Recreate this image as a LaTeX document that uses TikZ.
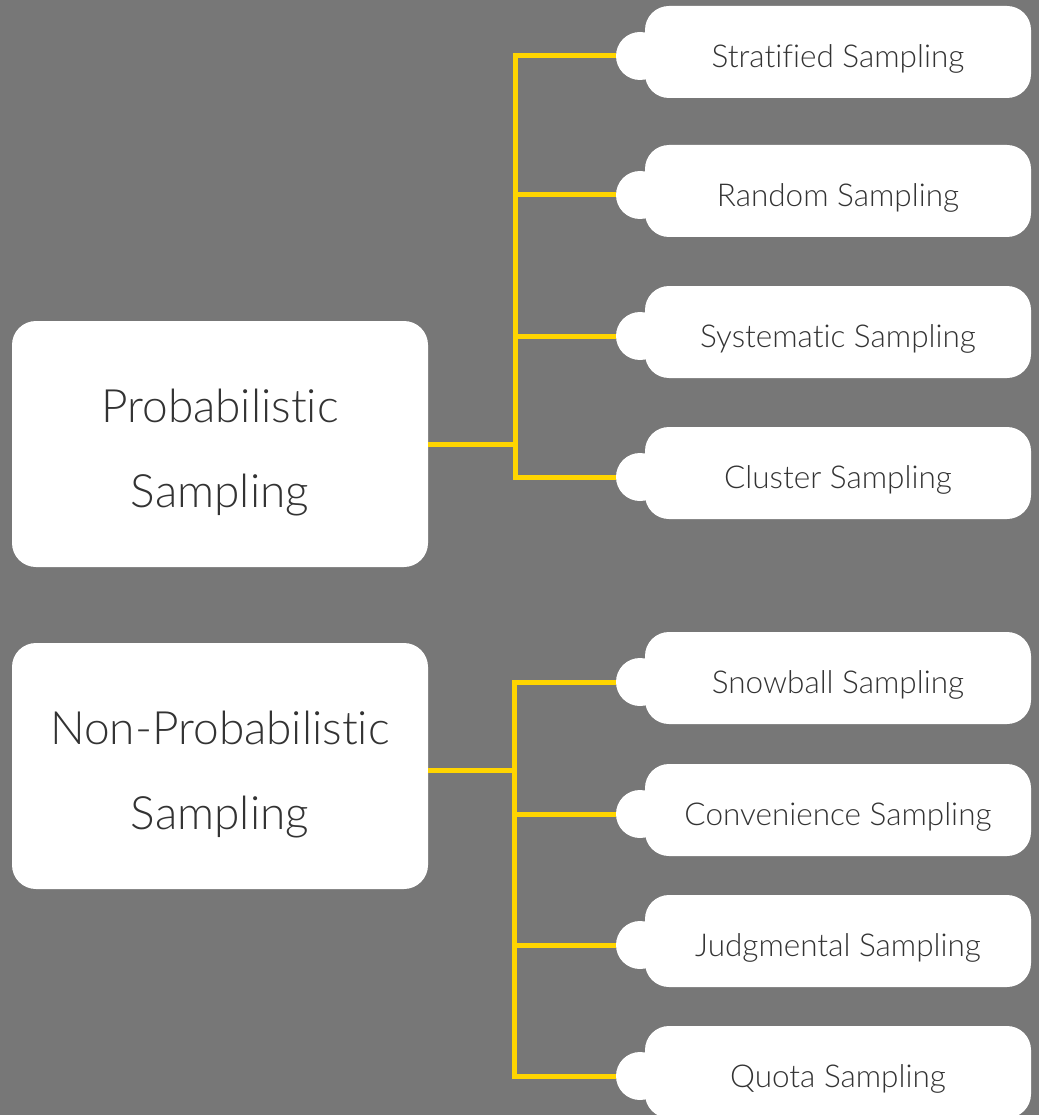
\documentclass[tikz,border=0pt]{standalone}
\usepackage{fontspec}
\setmainfont{Lato Light}[Ligatures={NoCommon}]
\definecolor{bggray}{HTML}{777777}
\definecolor{lineyel}{HTML}{FFD500}
\definecolor{txtgray}{HTML}{333333}
\tikzset{
  bus/.style={draw=lineyel, line width=5pt},
  catbox/.style={fill=white, rounded corners=24pt, minimum width=416pt, minimum height=246pt, inner sep=0pt},
  cattext/.style={align=center, text=txtgray, font=\fontsize{46}{85}\selectfont, inner sep=0pt},
  leafbox/.style={fill=white, rounded corners=24pt, minimum width=386pt, minimum height=92pt, inner sep=0pt},
  leaftext/.style={text=txtgray, font=\fontsize{31.5}{36}\selectfont, inner sep=0pt},
  bump/.style={fill=white, circle, minimum size=48pt, inner sep=0pt}
}
\begin{document}
\begin{tikzpicture}[x=1pt,y=-1pt]
\fill[bggray] (0,0) rectangle (1039,1115);
\useasboundingbox (0,0) rectangle (1039,1115);

% category boxes
\node[catbox] (prob) at (220,444) {};
\node[cattext] (probt) at ([yshift=-9pt]prob.center) {Probabilistic\\Sampling};
\node[catbox] (nonprob) at (220,766) {};
\node[cattext] (nonprobt) at ([yshift=-9pt]nonprob.center) {Non-Probabilistic\\Sampling};

% leaf boxes with bumps
\foreach \n/\y/\t in {s1/52/Stratified Sampling, s2/191/Random Sampling, s3/332/Systematic Sampling, s4/473/Cluster Sampling,
                      n1/678/Snowball Sampling, n2/810/Convenience Sampling, n3/941/Judgmental Sampling, n4/1072/Quota Sampling}{
  \node[bump] (\n b) at (640,\y+4) {};
  \node[leafbox] (\n) at (838,\y) {};
  \node[leaftext] (\n t) at ([yshift=-7pt]\n.center) {\t};
}

% connectors
\coordinate (tb) at (515,444);
\coordinate (bb) at (514,770);
\draw[bus] (prob.east) -- (tb);
\draw[bus] (nonprob.east |- bb) -- (bb);
\foreach \n in {s1,s2,s3,s4}{ \draw[bus] (tb) |- (\n b.west); }
\foreach \n in {n1,n2,n3,n4}{ \draw[bus] (bb) |- (\n b.west); }
\end{tikzpicture}
\end{document}
